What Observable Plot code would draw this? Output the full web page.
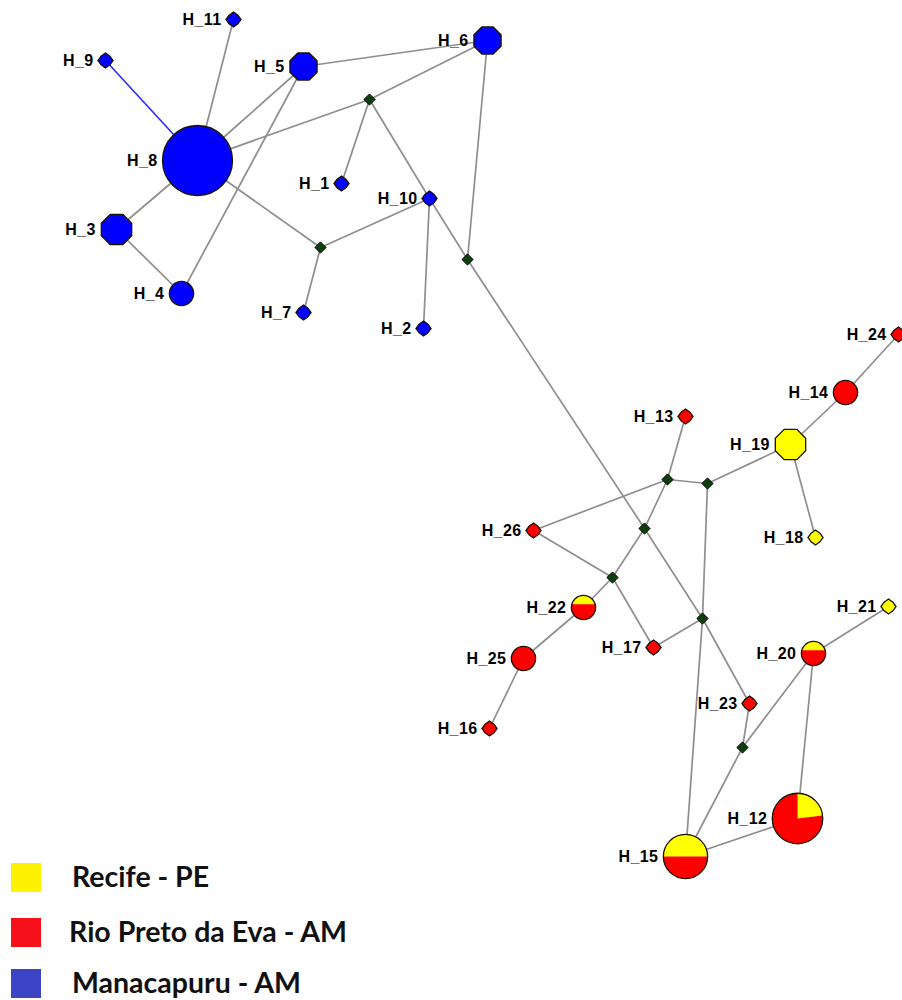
<!DOCTYPE html>
<html>
<head>
<meta charset="utf-8">
<script src="https://cdn.jsdelivr.net/npm/d3@7"></script>
<script src="https://cdn.jsdelivr.net/npm/@observablehq/plot@0.6"></script>
<style>
  body { margin: 0; background: #fff; }
  #wrap { position: relative; width: 902px; height: 1000px; overflow: hidden; }
  #chart text { letter-spacing: 0.4px; }
  .leg { position: absolute; left: 0; height: 29px; display: flex; align-items: center; font-family: Lato, "Open Sans", sans-serif; font-weight: 700; font-size: 28.5px; color: #111; }
  .sw { width: 30px; height: 29px; margin-left: 11px; flex: none; }
  .leg span { position: relative; top: -2px; white-space: nowrap; }
</style>
</head>
<body>
<div id="wrap"><div id="chart"></div><div id="legend"></div></div>
<script>
// ---- Haplotypes (network layout coordinates and sample counts per population) ----
const hapNames = ["H_1","H_2","H_3","H_4","H_5","H_6","H_7","H_8","H_9","H_10","H_11","H_12","H_13",
                  "H_14","H_15","H_16","H_17","H_18","H_19","H_20","H_21","H_22","H_23","H_24","H_25","H_26"];
const hapX = [341,423,116,181,303,487,303,197,105,429,233,797,685,845,685,489,653,815,790,813,888,583,749,898,523,533];
const hapY = [183,328,229,293,66,40,312,160,60,198,19,818,416,392,856,728,647,537,444,653,606,607,703,334,658,530];
const countRecife      = [0,0,0,0,0,0,0,0,0,0,0,3,0,0,5,0,0,1,5,1,1,1,0,0,0,0];
const countRioPreto    = [0,0,0,0,0,0,0,0,0,0,0,10,1,3,5,1,1,0,0,2,0,2,1,1,3,1];
const countManacapuru  = [1,1,5,3,4,4,1,25,1,1,1,0,0,0,0,0,0,0,0,0,0,0,0,0,0,0];

// ---- Median vectors ----
const medianNames = ["m1","m2","m3","m4","m5","m6","m7","m8","m9"];
const medianX = [369,320,467,667,707,644,612,702,742];
const medianY = [99,247,259,479,483,528,577,618,747];

// ---- Links ----
const edgeFrom = ["H_9","H_11","H_5","H_8","m1","H_5","H_5","H_8","H_3","H_8","m2","m2","m1","m1","H_10","H_10","H_6","m3","m6",
                  "m4","m4","m5","m4","m4","m6","H_26","m7","m7","H_22","H_25","m5","m8","m8","m8","H_23","m9","m9","H_20","H_20","H_12","H_19","H_14","H_19"];
const edgeTo   = ["H_8","H_8","H_8","m1","H_6","H_6","H_4","H_3","H_4","m2","H_7","H_10","H_1","H_10","H_2","m3","m3","m6","m8",
                  "H_13","m5","H_19","H_26","m6","m7","m7","H_22","H_17","H_25","H_16","m8","H_17","H_23","H_15","m9","H_20","H_15","H_12","H_21","H_15","H_14","H_24","H_18"];
const highlightedEdges = ["H_9|H_8"];
const wedgePies = ["H_12"];

const populations = ["Recife - PE", "Rio Preto da Eva - AM", "Manacapuru - AM"];
const nodeColors = ["#ffff00", "#ff0000", "#0000ff"];
const legendColors = ["#fff200", "#f5101a", "#3d45c6"];

// ---- build tables ----
const nodes = hapNames.map((name, i) => {
  const c = [countRecife[i], countRioPreto[i], countManacapuru[i]];
  const n = c[0] + c[1] + c[2];
  const present = c.filter(v => v > 0).length;
  return {name, x: hapX[i], y: hapY[i], c, n, mixed: present > 1,
          pop: populations[c.findIndex(v => v > 0)], fracRecife: c[0] / n};
});
const medians = medianNames.map((name, i) => ({name, x: medianX[i], y: medianY[i]}));
const pos = new Map([...nodes, ...medians].map(d => [d.name, d]));
const edges = edgeFrom.map((f, i) => ({
  from: pos.get(f), to: pos.get(edgeTo[i]), hi: highlightedEdges.includes(f + "|" + edgeTo[i])
}));

const rScaleOpts = {type: "sqrt", domain: [0, 1], range: [0, 7]};
const rs = Plot.scale({r: rScaleOpts});

// ---- custom symbols ----
const rOf = size => Math.sqrt(size / Math.PI);
const bulgedDiamond = {draw(ctx, size) {
  const r = rOf(size) * 1.08;
  for (let k = 0; k < 8; k++) {
    const a = -Math.PI / 2 + k * Math.PI / 4, rr = k % 2 ? r * 0.82 : r;
    k ? ctx.lineTo(rr * Math.cos(a), rr * Math.sin(a)) : ctx.moveTo(rr * Math.cos(a), rr * Math.sin(a));
  }
  ctx.closePath();
}};
const octagon = {draw(ctx, size) {
  const r = rOf(size) / Math.cos(Math.PI / 8) * 0.97;
  for (let k = 0; k < 8; k++) {
    const a = -Math.PI / 2 + Math.PI / 8 + k * Math.PI / 4;
    k ? ctx.lineTo(r * Math.cos(a), r * Math.sin(a)) : ctx.moveTo(r * Math.cos(a), r * Math.sin(a));
  }
  ctx.closePath();
}};
const circle = {draw(ctx, size) { const r = rOf(size); ctx.moveTo(r, 0); ctx.arc(0, 0, r, 0, 2 * Math.PI); ctx.closePath(); }};
const smallDiamond = {draw(ctx, size) { const r = rOf(size); ctx.moveTo(0, -r); ctx.lineTo(r, 0); ctx.lineTo(0, r); ctx.lineTo(-r, 0); ctx.closePath(); }};
function capSymbol(f) {
  let lo = 0, hi = 2 * Math.PI;
  for (let k = 0; k < 60; k++) { const m = (lo + hi) / 2; ((m - Math.sin(m)) / (2 * Math.PI) < f) ? lo = m : hi = m; }
  const th = (lo + hi) / 2;
  return {draw(ctx, size) {
    const r = rOf(size), a0 = -Math.PI / 2 - th / 2, a1 = -Math.PI / 2 + th / 2;
    ctx.moveTo(r * Math.cos(a0), r * Math.sin(a0)); ctx.arc(0, 0, r, a0, a1); ctx.closePath();
  }};
}
function wedgeSymbol(f) {
  return {draw(ctx, size) {
    const r = rOf(size);
    ctx.moveTo(0, 0); ctx.lineTo(0, -r); ctx.arc(0, 0, r, -Math.PI / 2, -Math.PI / 2 + 2 * Math.PI * f); ctx.closePath();
  }};
}
const shapeFor = n => n <= 1 ? bulgedDiamond : (n === 4 || n === 5) ? octagon : circle;

const pure = nodes.filter(d => !d.mixed);
const mixed = nodes.filter(d => d.mixed);
const nodeStroke = "#1a1205";

const marks = [
  Plot.link(edges.filter(e => !e.hi), {x1: e => e.from.x, y1: e => e.from.y, x2: e => e.to.x, y2: e => e.to.y,
    stroke: "#8e8e8e", strokeWidth: 1.7}),
  Plot.link(edges.filter(e => e.hi), {x1: e => e.from.x, y1: e => e.from.y, x2: e => e.to.x, y2: e => e.to.y,
    stroke: "#2a2aff", strokeWidth: 1.6}),
  Plot.dot(medians, {x: "x", y: "y", r: 5.6, symbol: smallDiamond, fill: "#0c3f0c", stroke: "#000", strokeWidth: 1}),
  ...[bulgedDiamond, octagon, circle].map(sym =>
    Plot.dot(pure.filter(d => shapeFor(d.n) === sym), {x: "x", y: "y", r: "n", symbol: sym, fill: "pop",
      stroke: nodeStroke, strokeWidth: 1.3})),
  Plot.dot(mixed, {x: "x", y: "y", r: "n", symbol: circle, fill: () => populations[1]}),
  ...mixed.map(d => Plot.dot([d], {x: "x", y: "y", r: "n",
    symbol: wedgePies.includes(d.name) ? wedgeSymbol(d.fracRecife) : capSymbol(d.fracRecife),
    fill: () => populations[0]})),
  Plot.dot(mixed, {x: "x", y: "y", r: "n", symbol: circle, fill: "none", stroke: nodeStroke, strokeWidth: 1.3}),
  Plot.text(nodes, {x: d => d.x - rs.apply(d.n) - 5, y: "y", text: "name", textAnchor: "end",
    fontFamily: "Liberation Sans, Arial, sans-serif", fontWeight: "bold", fontSize: 16, fill: "#000"})
];

const chart = Plot.plot({
  width: 902, height: 1000, margin: 0,
  x: {domain: [0, 902], range: [0, 902], axis: null},
  y: {domain: [0, 1000], range: [0, 1000], axis: null},
  r: rScaleOpts,
  color: {domain: populations, range: nodeColors},
  style: {background: "#fff"},
  marks
});
document.getElementById("chart").appendChild(chart);

// ---- legend (HTML, overlaid bottom-left) ----
const legendTops = [863, 918, 969];
const legendTextLeft = [72, 69, 72];
const legend = document.getElementById("legend");
populations.forEach((p, i) => {
  const row = document.createElement("div");
  row.className = "leg";
  row.style.top = legendTops[i] + "px";
  const sw = document.createElement("div");
  sw.className = "sw";
  sw.style.background = legendColors[i];
  const tx = document.createElement("span");
  tx.textContent = p;
  tx.style.marginLeft = (legendTextLeft[i] - 41) + "px";
  row.appendChild(sw); row.appendChild(tx);
  legend.appendChild(row);
});
</script>
</body>
</html>
